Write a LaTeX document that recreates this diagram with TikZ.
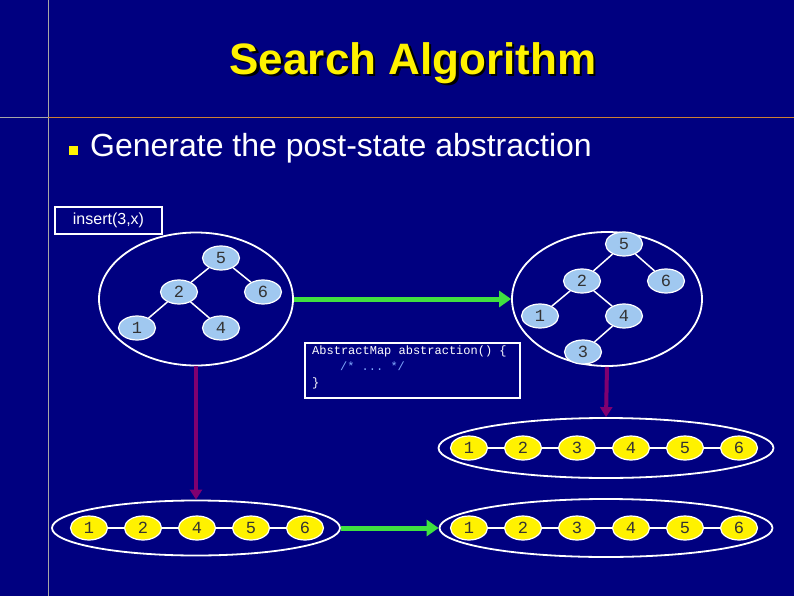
\documentclass[tikz,border=0pt]{standalone}
\usepackage{fontspec}
\setmainfont{Liberation Sans}
\setmonofont{Liberation Mono}
\usetikzlibrary{arrows.meta,shapes.geometric}
\definecolor{bg}{RGB}{0,0,128}
\definecolor{nb}{RGB}{160,200,240}
\definecolor{gr}{RGB}{64,224,64}
\definecolor{pu}{RGB}{128,0,112}
\definecolor{cm}{RGB}{130,170,255}
\begin{document}
\begin{tikzpicture}[x=1pt,y=-1pt,
 tn/.style={ellipse,draw=white,line width=1.2pt,fill=nb,minimum width=37pt,minimum height=24pt,inner sep=0pt,font=\ttfamily\fontsize{17}{17}\selectfont,text=black!80},
 ln/.style={tn,fill=yellow},
 edge/.style={white,line width=1.5pt},
 cont/.style={ellipse,draw=white,line width=1.8pt,inner sep=0pt},
 garr/.style={gr,line width=5pt,-{Triangle[length=12pt,width=16pt]}},
 parr/.style={pu,line width=4pt,-{Triangle[length=10pt,width=12pt]}},
 box/.style={draw=white,line width=1.2pt,inner sep=0pt}]
\useasboundingbox[fill=bg] (0,0) rectangle (794,596);
\draw[gray!70,line width=1pt] (48,0) -- (48,596);
\draw[gray!70,line width=1pt] (0,118) -- (48,118);
\draw[orange!60!gray,line width=1pt] (48,118) -- (794,118);
\node[text=black,font=\fontsize{44}{44}\selectfont\bfseries] (titsh) at (415.5,65.5) {Search Algorithm};
\node[text=yellow,font=\fontsize{44}{44}\selectfont\bfseries] (title) at (413,63) {Search Algorithm};
\node[fill=yellow,minimum size=9pt,inner sep=0pt] (bul) at (73,151) {};
\node[anchor=west,text=white,font=\fontsize{32}{32}\selectfont,inner sep=0pt] (gen) at (90,148) {Generate the post-state abstraction};
\node[box,minimum width=107pt,minimum height=27pt,text=white,font=\fontsize{16}{16}\selectfont] (ins) at (108.5,220.5) {insert(3,x)};
\node[box,minimum width=215pt,minimum height=55pt] (code) at (412.5,370.5) {};
\node[anchor=north west,align=left,text=white,font=\ttfamily\fontsize{12}{16}\selectfont,inner sep=0pt] (codet) at (312,346) {AbstractMap abstraction() \{\\\hspace*{4.4ex}{\color{cm}/* ... */}\\\}};
% left tree
\node[cont,minimum width=194pt,minimum height=133pt] (L) at (196,299) {};
\node[tn] (l5) at (221,258) {5};
\node[tn] (l2) at (179,292) {2};
\node[tn] (l6) at (263,292) {6};
\node[tn] (l1) at (137,328) {1};
\node[tn] (l4) at (221,328) {4};
% right tree
\node[cont,minimum width=190pt,minimum height=134pt] (R) at (607,299) {};
\node[tn] (r5) at (624,244) {5};
\node[tn] (r2) at (582,281) {2};
\node[tn] (r6) at (666,281) {6};
\node[tn] (r1) at (540,316) {1};
\node[tn] (r4) at (624,316) {4};
\node[tn] (r3) at (583,352) {3};
% lists
\node[cont,minimum width=288pt,minimum height=55pt] (BL) at (196,528) {};
\node[cont,minimum width=335pt,minimum height=60pt] (TR) at (606,448) {};
\node[cont,minimum width=333pt,minimum height=58pt] (BR) at (606,528) {};
\foreach \n/\x in {1/89,2/143,4/197,5/251,6/305} \node[ln] (a\n) at (\x,528) {\n};
\foreach \n/\x in {1/469,2/523,3/577,4/631,5/685,6/739} \node[ln] (b\n) at (\x,448) {\n};
\foreach \n/\x in {1/469,2/523,3/577,4/631,5/685,6/739} \node[ln] (c\n) at (\x,528) {\n};
% edges
\draw[edge] (l5) -- (l2); \draw[edge] (l5) -- (l6); \draw[edge] (l2) -- (l1); \draw[edge] (l2) -- (l4);
\draw[edge] (r5) -- (r2); \draw[edge] (r5) -- (r6); \draw[edge] (r2) -- (r1); \draw[edge] (r2) -- (r4); \draw[edge] (r4) -- (r3);
\draw[edge] (a1) -- (a2) (a2) -- (a4) (a4) -- (a5) (a5) -- (a6);
\draw[edge] (b1) -- (b2) (b2) -- (b3) (b3) -- (b4) (b4) -- (b5) (b5) -- (b6);
\draw[edge] (c1) -- (c2) (c2) -- (c3) (c3) -- (c4) (c4) -- (c5) (c5) -- (c6);
% arrows
\draw[garr] (L.east) -- (R.west);
\draw[garr] (BL.east) -- (BR.west);
\draw[parr] (L.south) -- (BL.north);
\draw[parr] (R.south) -- (TR.north);
\end{tikzpicture}
\end{document}
